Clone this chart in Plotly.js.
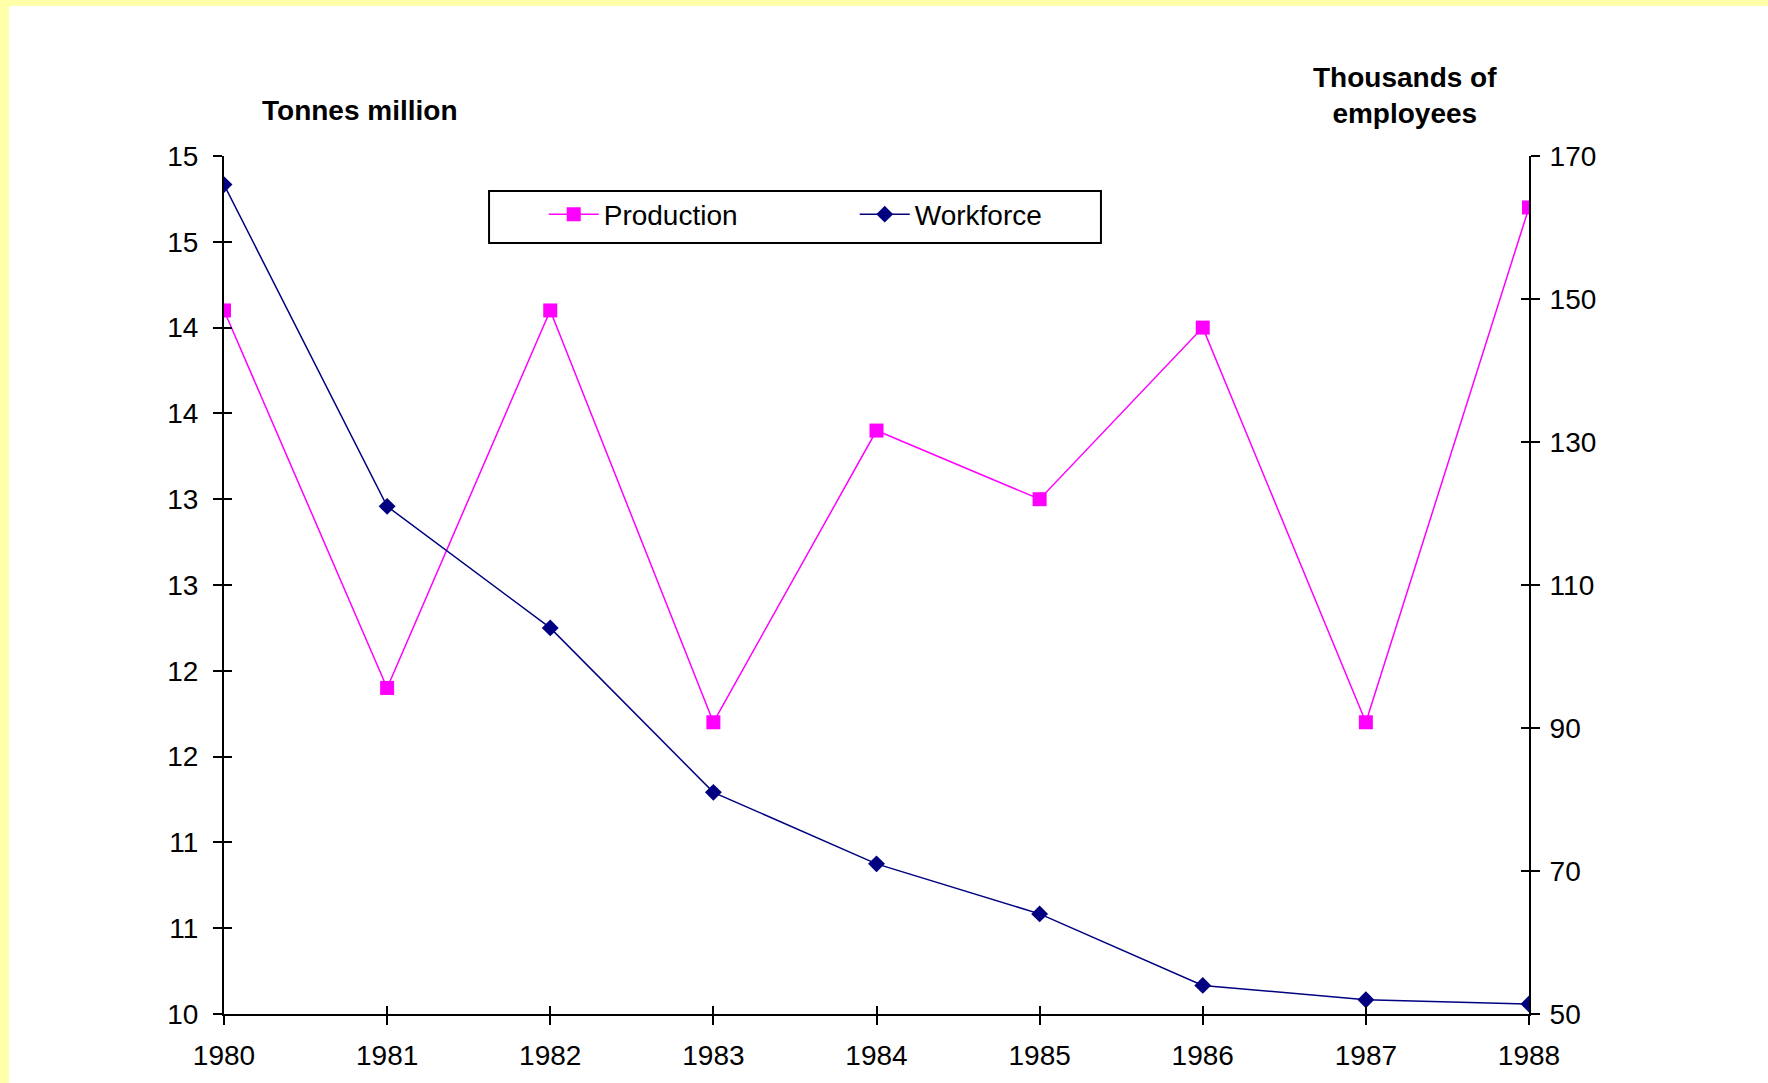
<!DOCTYPE html>
<html>
<head>
<meta charset="utf-8">
<script src="https://cdn.plot.ly/plotly-3.0.1.min.js"></script>
<style>
  html, body { margin: 0; padding: 0; background: #FFFFAA; width: 1768px; height: 1083px; overflow: hidden; }
  #chart { position: absolute; left: 9px; top: 6px; width: 1759px; height: 1077px; background: #fff; }
</style>
</head>
<body>
<div id="chart"></div>
<script>
// ---- data ----
const years = [1980, 1981, 1982, 1983, 1984, 1985, 1986, 1987, 1988];
const production = [14.1, 11.9, 14.1, 11.7, 13.4, 13.0, 14.0, 11.7, 14.7];   // Tonnes million
const workforce = [166, 121, 104, 81, 71, 64, 54, 52, 51.4];                 // Thousands of employees
const leftTickVals = [10, 10.5, 11, 11.5, 12, 12.5, 13, 13.5, 14, 14.5, 15];
const leftTickText = ['10', '11', '11', '12', '12', '13', '13', '14', '14', '15', '15'];
const rightTickVals = [50, 70, 90, 110, 130, 150, 170];
const xTickText = ['1980', '1981', '1982', '1983', '1984', '1985', '1986', '1987', '1988'];
const seriesNames = ['Production', 'Workforce'];
const leftTitle = 'Tonnes million';
const rightTitle = 'Thousands of<br>employees';

const FONT = 'Liberation Sans, Arial, sans-serif';
const tickFont = { family: FONT, size: 28, color: '#000' };

const traces = [
  {
    x: years, y: production, name: seriesNames[0], type: 'scatter', mode: 'lines+markers',
    xaxis: 'x', yaxis: 'y',
    line: { color: '#FF00FF', width: 1.5 },
    marker: { symbol: 'square', size: 14, color: '#FF00FF' }
  },
  {
    x: years, y: workforce, name: seriesNames[1], type: 'scatter', mode: 'lines+markers',
    xaxis: 'x', yaxis: 'y2',
    line: { color: '#000080', width: 1.5 },
    marker: { symbol: 'diamond', size: 13, color: '#000080' }
  },
  // empty helper traces so the overlay (inner-tick) axes get drawn
  { x: [], y: [], xaxis: 'x2', yaxis: 'y3', type: 'scatter', mode: 'lines', showlegend: false, hoverinfo: 'skip' },
  { x: [], y: [], xaxis: 'x2', yaxis: 'y4', type: 'scatter', mode: 'lines', showlegend: false, hoverinfo: 'skip' }
];

const xRange = [years[0], years[years.length - 1]];
const yRange = [leftTickVals[0], leftTickVals[leftTickVals.length - 1]];
const y2Range = [rightTickVals[0], rightTickVals[rightTickVals.length - 1]];

const layout = {
  width: 1759, height: 1077,
  paper_bgcolor: '#ffffff', plot_bgcolor: '#ffffff',
  margin: { l: 215, r: 239, t: 150, b: 69, pad: 0 },
  font: { family: FONT, size: 28, color: '#000' },
  showlegend: true,
  legend: {
    orientation: 'h', x: 0.245, y: 0.961, xanchor: 'left', yanchor: 'top',
    bgcolor: 'rgba(0,0,0,0)', borderwidth: 0,
    font: { family: FONT, size: 28, color: '#000' },
    itemwidth: 50, entrywidth: 246, tracegroupgap: 0
  },
  xaxis: {
    range: xRange, tickvals: years, ticktext: xTickText,
    showgrid: false, zeroline: false,
    showline: true, linecolor: '#000', linewidth: 2,
    ticks: 'outside', ticklen: 9, tickwidth: 2, tickcolor: '#000',
    tickfont: tickFont, ticklabelstandoff: 6, anchor: 'y'
  },
  xaxis2: {
    range: xRange, tickvals: years, overlaying: 'x', anchor: 'y', side: 'bottom',
    showgrid: false, zeroline: false, showline: false, showticklabels: false,
    ticks: 'inside', ticklen: 8, tickwidth: 2, tickcolor: '#000'
  },
  yaxis: {
    range: yRange, tickvals: leftTickVals, ticktext: leftTickText,
    showgrid: false, zeroline: false,
    showline: true, linecolor: '#000', linewidth: 2,
    ticks: 'outside', ticklen: 9, tickwidth: 2, tickcolor: '#000',
    tickfont: tickFont, ticklabelstandoff: 9, anchor: 'x'
  },
  yaxis3: {
    range: yRange, tickvals: leftTickVals, overlaying: 'y', anchor: 'x', side: 'left',
    showgrid: false, zeroline: false, showline: false, showticklabels: false,
    ticks: 'inside', ticklen: 8, tickwidth: 2, tickcolor: '#000'
  },
  yaxis2: {
    range: y2Range, tickvals: rightTickVals, overlaying: 'y', side: 'right', anchor: 'x',
    showgrid: false, zeroline: false,
    showline: true, linecolor: '#000', linewidth: 2,
    ticks: 'outside', ticklen: 9, tickwidth: 2, tickcolor: '#000',
    tickfont: tickFont, ticklabelstandoff: 4
  },
  yaxis4: {
    range: y2Range, tickvals: rightTickVals, overlaying: 'y', side: 'right', anchor: 'x',
    showgrid: false, zeroline: false, showline: false, showticklabels: false,
    ticks: 'inside', ticklen: 8, tickwidth: 2, tickcolor: '#000'
  },
  shapes: [
    { type: 'rect', xref: 'paper', yref: 'paper', x0: 0.2031, x1: 0.6720, y0: 0.8986, y1: 0.9592,
      line: { color: '#000', width: 2 }, fillcolor: 'rgba(0,0,0,0)', layer: 'above' }
  ],
  annotations: [
    { text: '<b>' + leftTitle + '</b>', xref: 'paper', yref: 'paper', x: 0.1042, y: 1.0536,
      xanchor: 'center', yanchor: 'middle', showarrow: false,
      font: { family: FONT, size: 28, color: '#000' } },
    { text: '<b>' + rightTitle + '</b>', xref: 'paper', yref: 'paper', x: 0.905, y: 1.0705,
      xanchor: 'center', yanchor: 'middle', showarrow: false,
      font: { family: FONT, size: 28, color: '#000' } }
  ]
};

Plotly.newPlot('chart', traces, layout, { displayModeBar: false, staticPlot: true });
</script>
</body>
</html>
